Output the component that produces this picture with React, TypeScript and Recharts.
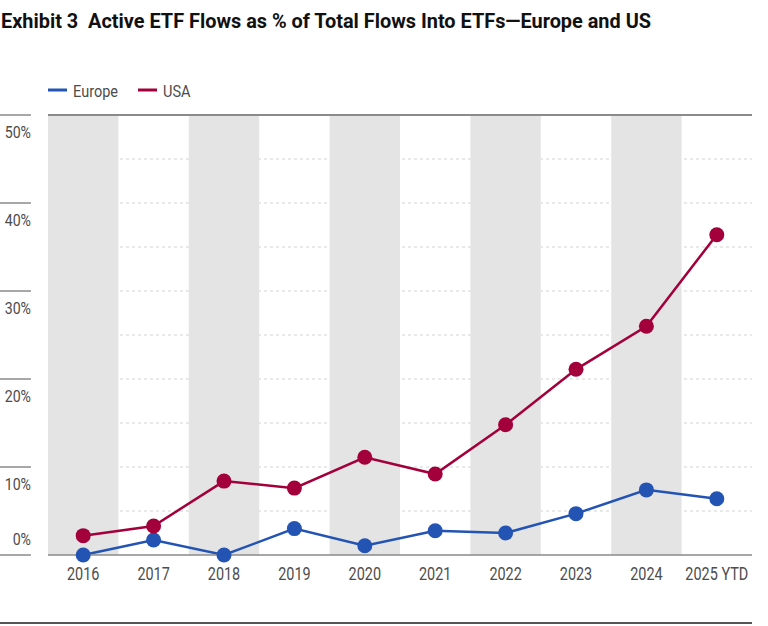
import {
  CartesianGrid,
  ComposedChart,
  Line,
  ReferenceArea,
  ReferenceLine,
  XAxis,
  YAxis,
} from "recharts";

const years = ["2016", "2017", "2018", "2019", "2020", "2021", "2022", "2023", "2024", "2025 YTD"];
const europe = [0, 1.7, 0, 3.0, 1.05, 2.75, 2.5, 4.7, 7.4, 6.4];
const usa = [2.2, 3.3, 8.4, 7.6, 11.1, 9.2, 14.8, 21.1, 26.0, 36.4];
const yTicks = [0, 10, 20, 30, 40, 50];
const gridValues = [5, 10, 15, 20, 25, 30, 35, 40, 45];
const shadedYears = ["2016", "2018", "2020", "2022", "2024"];

const data = years.map((year, i) => ({ year, europe: europe[i], usa: usa[i] }));

const FONT = "Roboto, sans-serif";
const LABEL = "#4d4d4d";
const BLUE = "#2354b4";
const RED = "#a3003b";

// narrow text: the original uses a condensed face
function Narrow({ x, y, size, sx, anchor, children }: any) {
  return (
    <text
      transform={`translate(${x},${y}) scale(${sx},1)`}
      textAnchor={anchor || "start"}
      fontSize={size}
      fontFamily={FONT}
      fill={LABEL}
    >
      {children}
    </text>
  );
}

function YTick(props: any) {
  const { y, payload } = props;
  const v = payload.value;
  return (
    <g>
      <line x1={0} x2={31} y1={y} y2={y} stroke="#8a8a8a" strokeWidth={1.5} />
      <Narrow x={31} y={v === 0 ? y - 10 : y + 23} size={16.5} sx={0.86} anchor="end">
        {v}%
      </Narrow>
    </g>
  );
}

function XTick(props: any) {
  const { x, y, payload } = props;
  return (
    <Narrow x={x} y={y + 17} size={19} sx={0.76} anchor="middle">
      {payload.value}
    </Narrow>
  );
}

export default function App() {
  return (
    <div style={{ position: "absolute", left: 0, top: 0, width: 768, height: 626, background: "#fff" }}>
      <svg width={768} height={110} style={{ position: "absolute", left: 0, top: 0 }}>
        <text
          x={1}
          y={28}
          fontSize={21}
          fontWeight="bold"
          fontFamily={FONT}
          fill="#111"
          textLength={650}
          lengthAdjust="spacingAndGlyphs"
        >
          {"Exhibit 3\u00a0\u00a0Active ETF Flows as % of Total Flows Into ETFs\u2014Europe and US"}
        </text>
        <line x1={48} x2={67} y1={90} y2={90} stroke={BLUE} strokeWidth={3} />
        <Narrow x={73} y={97} size={16.5} sx={0.88}>
          Europe
        </Narrow>
        <line x1={138} x2={157} y1={90} y2={90} stroke={RED} strokeWidth={3} />
        <Narrow x={163} y={97} size={16.5} sx={0.88}>
          USA
        </Narrow>
      </svg>
      <div style={{ position: "absolute", left: 0, top: 0 }}>
        <ComposedChart
          width={768}
          height={626}
          data={data}
          margin={{ top: 115, right: 16, bottom: 31, left: 0 }}
        >
          <CartesianGrid
            vertical={false}
            horizontalValues={gridValues}
            stroke="#d2d2d2"
            strokeDasharray="3 3"
          />
          {shadedYears.map((yr) => (
            <ReferenceArea
              key={yr}
              x1={yr}
              x2={yr}
              fill="#e4e4e4"
              fillOpacity={1}
              stroke="none"
            />
          ))}
          <XAxis
            dataKey="year"
            scale="band"
            interval={0}
            height={40}
            tickLine={false}
            axisLine={{ stroke: "#8a8a8a", strokeWidth: 1.5 }}
            tick={<XTick />}
          />
          <YAxis
            width={48}
            domain={[0, 50]}
            ticks={yTicks}
            axisLine={false}
            tickLine={false}
            tick={<YTick />}
          />
          <ReferenceLine y={50} stroke="#8a8a8a" strokeWidth={2} />
          <Line
            dataKey="europe"
            stroke={BLUE}
            strokeWidth={2.5}
            dot={{ r: 7.5, fill: BLUE, stroke: "none" }}
            activeDot={false}
            isAnimationActive={false}
          />
          <Line
            dataKey="usa"
            stroke={RED}
            strokeWidth={2.5}
            dot={{ r: 7.5, fill: RED, stroke: "none" }}
            activeDot={false}
            isAnimationActive={false}
          />
        </ComposedChart>
      </div>
      <div
        style={{ position: "absolute", left: 0, top: 622, width: 752, height: 2, background: "#555" }}
      />
    </div>
  );
}
